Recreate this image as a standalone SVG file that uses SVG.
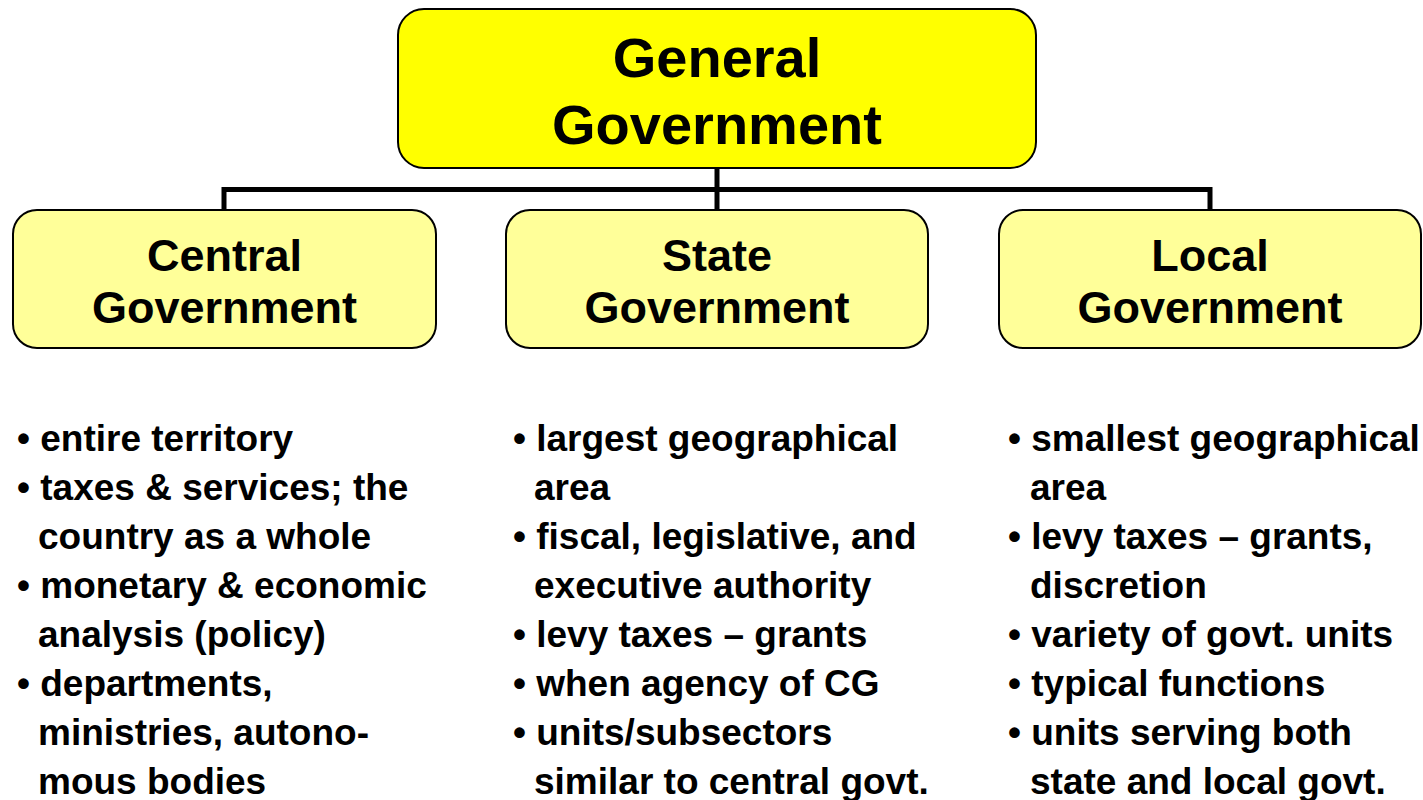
<svg xmlns="http://www.w3.org/2000/svg" width="1423" height="800" viewBox="0 0 1423 800">
<style>
.box{stroke:#000;stroke-width:2}
.top{fill:#FFFF00}
.child{fill:#FFFF99}
.conn{fill:none;stroke:#000;stroke-width:5;stroke-linejoin:miter;stroke-linecap:butt}
.t{font-family:"Liberation Sans",Arial,Helvetica,sans-serif;font-weight:bold;fill:#000}
.title{font-size:56px;text-anchor:middle}
.ctitle{font-size:45px;text-anchor:middle}
.b{font-size:37px}
</style>
<rect width="1423" height="800" fill="#fff"/>
<g id="connectors">
<path class="conn" d="M717 168V210"/>
<path class="conn" d="M224 210V189.5H1210V210"/>
</g>
<g id="general">
<rect class="box top" x="398" y="9" width="638" height="159" rx="26"/>
<text class="t title" x="717" y="77">General</text>
<text class="t title" x="717" y="144">Government</text>
</g>
<g id="central">
<rect class="box child" x="13" y="210" width="423" height="138" rx="24"/>
<text class="t ctitle" x="224.5" y="271">Central</text>
<text class="t ctitle" x="224.5" y="323">Government</text>
</g>
<g id="state">
<rect class="box child" x="506" y="210" width="422" height="138" rx="24"/>
<text class="t ctitle" x="717" y="271">State</text>
<text class="t ctitle" x="717" y="323">Government</text>
</g>
<g id="local">
<rect class="box child" x="999" y="210" width="422" height="138" rx="24"/>
<text class="t ctitle" x="1210" y="271">Local</text>
<text class="t ctitle" x="1210" y="323">Government</text>
</g>
<g id="central-list" class="t b">
<text x="17" y="451">• entire territory</text>
<text x="17" y="500">• taxes &amp; services; the</text>
<text x="38" y="549">country as a whole</text>
<text x="17" y="598">• monetary &amp; economic</text>
<text x="38" y="647">analysis (policy)</text>
<text x="17" y="696">• departments,</text>
<text x="38" y="745">ministries, autono-</text>
<text x="38" y="794">mous bodies</text>
</g>
<g id="state-list" class="t b">
<text x="513" y="451">• largest geographical</text>
<text x="534" y="500">area</text>
<text x="513" y="549">• fiscal, legislative, and</text>
<text x="534" y="598">executive authority</text>
<text x="513" y="647">• levy taxes – grants</text>
<text x="513" y="696">• when agency of CG</text>
<text x="513" y="745">• units/subsectors</text>
<text x="534" y="794">similar to central govt.</text>
</g>
<g id="local-list" class="t b">
<text x="1008" y="451">• smallest geographical</text>
<text x="1030" y="500">area</text>
<text x="1008" y="549">• levy taxes – grants,</text>
<text x="1030" y="598">discretion</text>
<text x="1008" y="647">• variety of govt. units</text>
<text x="1008" y="696">• typical functions</text>
<text x="1008" y="745">• units serving both</text>
<text x="1030" y="794">state and local govt.</text>
</g>
</svg>
